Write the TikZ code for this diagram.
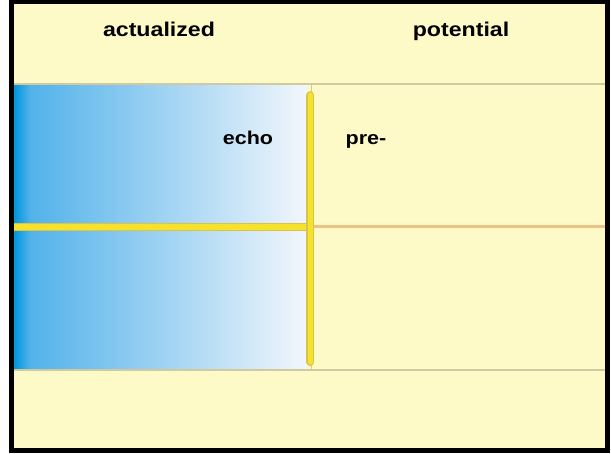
\documentclass[tikz,border=0pt]{standalone}
\usepackage{fontspec}
\newfontfamily\labelfont{Liberation Sans}[FakeStretch=1.16]
\usetikzlibrary{positioning}
\definecolor{paper}{HTML}{FEFAC8}
\definecolor{rule}{HTML}{CFCAA0}
\definecolor{deepblue}{HTML}{0096DC}
\definecolor{midblue}{HTML}{52B2EA}
\definecolor{paleblue}{HTML}{F2F6FC}
\definecolor{baryellow}{HTML}{F6E12C}
\definecolor{baredge}{HTML}{D9C44A}
\definecolor{pastorange}{HTML}{ECC385}
\tikzset{
  head/.style={font=\labelfont\bfseries\fontsize{14.2}{16}\selectfont,text=black,anchor=base,inner sep=0pt},
  tag/.style={font=\labelfont\bfseries\fontsize{13.2}{15}\selectfont,text=black,anchor=base,inner sep=0pt},
  thinrule/.style={draw=rule,line width=0.8pt},
  nowline/.style={draw=baryellow,line width=0.15cm},
  nowedge/.style={draw=baredge,line width=0.2cm,line cap=round},
  nowbar/.style={draw=baryellow,line width=0.14cm,line cap=round},
  pastline/.style={draw=pastorange,line width=0.075cm}
}
\begin{document}
\begin{tikzpicture}[x=1cm,y=1cm]
\path[use as bounding box] (0,0) rectangle (15.275,11.35);
\fill[paper] (0.2875,0.0875) rectangle (15.1875,11.3);
% blue band of the actualized side
\shade[left color=midblue,right color=paleblue] (0.74,2.1) rectangle (7.66,9.25);
\shade[left color=deepblue,right color=midblue] (0.35,2.1) rectangle (0.75,9.25);
\draw[thinrule] (0.35,9.25)--(15.125,9.25);
\draw[thinrule] (0.35,2.1)--(15.125,2.1);
\draw[thinrule] (7.7875,2.1)--(7.7875,9.25);
% time line and the present
\draw[pastline] (7.7875,5.675)--(15.125,5.675);
\draw[draw=baredge,line width=0.19cm] (0.35,5.675)--(7.7875,5.675);
\draw[nowline] (0.35,5.675)--(7.7875,5.675);
\draw[nowedge] (7.76,2.3)--(7.76,8.97);
\draw[nowbar] (7.76,2.3)--(7.76,8.97);
\node[head] (act) at (3.975,10.43) {actualized};
\node[head] (pot) at (11.525,10.43) {potential};
\node[tag] (echo) at (6.2,7.725) {echo};
\node[tag] (pre) at (9.15,7.725) {pre-};
\draw[black,line width=0.125cm] (0.2875,0.0875) rectangle (15.1875,11.3);
\end{tikzpicture}
\end{document}
